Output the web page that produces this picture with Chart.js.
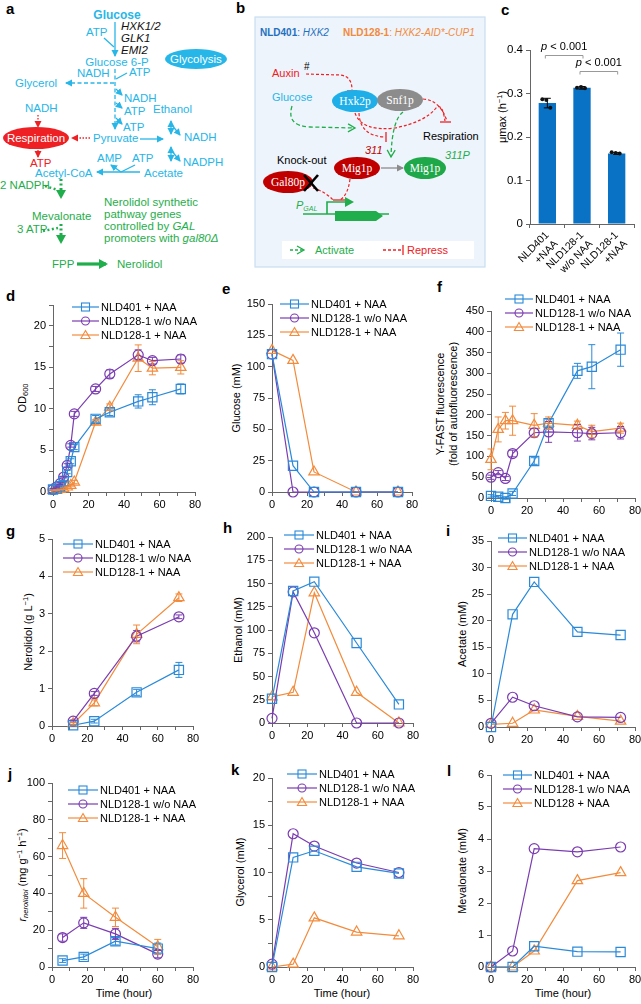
<!DOCTYPE html>
<html><head><meta charset="utf-8">
<script src="https://cdn.jsdelivr.net/npm/chart.js@4.4.1/dist/chart.umd.min.js"></script>
<style>
html,body{margin:0;padding:0;background:#fff;}
#root{position:relative;width:641px;height:1004px;overflow:hidden;font-family:'Liberation Sans',Arial,sans-serif;color:#000;}
canvas{position:absolute;}
.lbl{position:absolute;font-weight:bold;font-size:15px;line-height:15px;}
.yt{position:absolute;white-space:nowrap;font-size:11px;line-height:13px;transform:translate(-50%,-50%) rotate(-90deg);text-align:center;}
.xt{position:absolute;white-space:nowrap;font-size:11px;transform:translate(-50%,-50%);}
.leg{position:absolute;font-size:11px;}
.leg div{height:14px;display:flex;align-items:center;white-space:nowrap;}
.leg svg{margin-right:2px;}
sup{font-size:7.5px;vertical-align:4px;line-height:0;}
sub{font-size:7.5px;vertical-align:-2px;line-height:0;}
svg text{font-family:'Liberation Sans',Arial,sans-serif;}
</style></head><body><div id="root">

<svg id="diag" width="641" height="290" style="position:absolute;left:0;top:0" font-size="11.5">
<defs>
 <marker id="mc" markerWidth="8" markerHeight="8" refX="6" refY="4" orient="auto" markerUnits="userSpaceOnUse"><path d="M0,0.5 L7,4 L0,7.5 z" fill="#27b6e8"/></marker>
 <marker id="mcs" markerWidth="8" markerHeight="8" refX="1" refY="4" orient="auto" markerUnits="userSpaceOnUse"><path d="M7,0.5 L0,4 L7,7.5 z" fill="#27b6e8"/></marker>
 <marker id="mr" markerWidth="8" markerHeight="8" refX="6" refY="4" orient="auto" markerUnits="userSpaceOnUse"><path d="M0,0.5 L7,4 L0,7.5 z" fill="#ee2024"/></marker>
 <marker id="mg" markerWidth="10" markerHeight="10" refX="7" refY="5" orient="auto" markerUnits="userSpaceOnUse"><path d="M0,0 L9,5 L0,10 z" fill="#1fae4b"/></marker>
 <marker id="mgo" markerWidth="10" markerHeight="10" refX="8" refY="5" orient="auto" markerUnits="userSpaceOnUse"><path d="M1,1 L8,5 L1,9" fill="none" stroke="#1fae4b" stroke-width="1.3"/></marker>
 <marker id="mgr" markerWidth="8" markerHeight="8" refX="6" refY="4" orient="auto" markerUnits="userSpaceOnUse"><path d="M0,0.5 L7,4 L0,7.5 z" fill="#8c8c8c"/></marker>
</defs>
<!-- panel a -->
<g fill="#27b6e8" stroke="none">
 <text x="117" y="19" text-anchor="middle" font-weight="bold" font-size="12">Glucose</text>
 <text x="86" y="36">ATP</text>
 <text x="117" y="66" text-anchor="middle">Glucose 6-P</text>
 <text x="77" y="77">NADH</text>
 <text x="129" y="76">ATP</text>
 <text x="15" y="87">Glycerol</text>
 <text x="124" y="102">NADH</text>
 <text x="124" y="115">ATP</text>
 <text x="123" y="131">ATP</text>
 <text x="25" y="112">NADH</text>
 <text x="93" y="142">Pyruvate</text>
 <text x="153" y="113">Ethanol</text>
 <text x="184" y="141">NADH</text>
 <text x="183" y="166">NADPH</text>
 <text x="144" y="177">Acetate</text>
 <text x="35" y="177">Acetyl-CoA</text>
 <text x="97" y="162">AMP</text>
 <text x="132" y="162">ATP</text>
</g>
<g font-style="italic" fill="#111"><text x="121" y="30">HXK1/2</text><text x="121" y="42">GLK1</text><text x="121" y="54">EMI2</text></g>
<ellipse cx="196" cy="59" rx="31" ry="10" fill="#27b6e8"/><text x="196" y="63" text-anchor="middle" fill="#fff">Glycolysis</text>
<g stroke="#27b6e8" stroke-width="1.3" fill="none">
 <line x1="115" y1="22" x2="115" y2="56" marker-end="url(#mc)"/>
 <path d="M104,38 L114,47"/>
 <path d="M116,79 L127,73"/>
 <line x1="115" y1="69" x2="115" y2="129" stroke-dasharray="4,2.5" marker-end="url(#mc)"/>
 <line x1="114" y1="83" x2="66" y2="83" stroke-dasharray="4,2.5" marker-end="url(#mc)"/>
 <path d="M116,89 L122,95" marker-end="url(#mc)"/>
 <path d="M116,103 L122,108" marker-end="url(#mc)"/>
 <path d="M116,118 L122,124" marker-end="url(#mc)"/>
 <line x1="140" y1="139" x2="163" y2="139" marker-end="url(#mc)"/>
 <path d="M171,121 L171,134" marker-start="url(#mcs)" marker-end="url(#mc)"/>
 <path d="M171,124 L180,135" marker-end="url(#mc)"/>
 <path d="M171,147 L171,161" marker-start="url(#mcs)" marker-end="url(#mc)"/>
 <path d="M171,150 L180,161" marker-end="url(#mc)"/>
 <line x1="140" y1="172" x2="97" y2="172" marker-end="url(#mc)"/>
 <path d="M121,172 L111,165" marker-end="url(#mc)"/>
 <path d="M121,172 L135,165"/>
</g>
<ellipse cx="36" cy="138" rx="33" ry="11" fill="#ee2024"/><text x="36" y="142" text-anchor="middle" fill="#fff">Respiration</text>
<text x="30" y="167" fill="#ee2024">ATP</text>
<g stroke="#ee2024" stroke-width="1.3" fill="none" stroke-dasharray="1.5,1.5">
 <line x1="38" y1="115" x2="38" y2="127" marker-end="url(#mr)"/>
 <line x1="90" y1="138" x2="72" y2="138" marker-end="url(#mr)"/>
 <line x1="38" y1="150" x2="38" y2="157" marker-end="url(#mr)"/>
</g>
<g fill="#1fae4b">
 <text x="0" y="189">2 NADPH</text>
 <text x="32" y="220">Mevalonate</text>
 <text x="17" y="233">3 ATP</text>
 <text x="52" y="268">FPP</text>
 <text x="117" y="268">Nerolidol</text>
 <text x="104" y="206">Nerolidol synthetic</text>
 <text x="104" y="218">pathway genes</text>
 <text x="104" y="230">controlled by <tspan font-style="italic">GAL</tspan></text>
 <text x="104" y="242">promoters with <tspan font-style="italic">gal80Δ</tspan></text>
</g>
<g stroke="#1fae4b" fill="none">
 <line x1="61" y1="179" x2="61" y2="197" stroke-width="3" stroke-dasharray="2,2.5" marker-end="url(#mg)"/>
 <line x1="45" y1="186" x2="58" y2="190" stroke-width="2.5" stroke-dasharray="2,2.5"/>
 <line x1="61" y1="224" x2="61" y2="242" stroke-width="3" stroke-dasharray="2,2.5" marker-end="url(#mg)"/>
 <line x1="43" y1="231" x2="58" y2="228" stroke-width="2.5" stroke-dasharray="2,2.5"/>
 <line x1="77" y1="264" x2="106" y2="264" stroke-width="3.2" marker-end="url(#mg)"/>
</g>
<!-- panel b -->
<rect x="255" y="17" width="230" height="250" fill="#eef4fb" stroke="#c9ddf0" stroke-width="1.2"/>
<text x="260" y="36" font-size="10"><tspan font-weight="bold" fill="#1f70c1">NLD401</tspan><tspan fill="#1f70c1">: </tspan><tspan fill="#1f70c1" font-style="italic">HXK2</tspan></text>
<text x="343" y="36" font-size="10"><tspan font-weight="bold" fill="#f28a3c">NLD128-1</tspan><tspan fill="#f28a3c">: </tspan><tspan fill="#f28a3c" font-style="italic">HXK2-AID*-CUP1</tspan></text>
<text x="272" y="77" fill="#ee2024" font-size="11">Auxin</text>
<text x="304" y="70" font-size="10">#</text>
<text x="272" y="101" fill="#27b6e8" font-size="11">Glucose</text>
<g stroke="#ee2024" stroke-width="1.2" fill="none" stroke-dasharray="3,2">
 <path d="M306,74 L340,75 Q352,76 352,90"/>
 <path d="M359,113 Q360,136 385,137"/>
 <path d="M355,113 Q362,132 395,128 Q425,122 436,108 Q442,102 445,121"/>
 <path d="M423,99 Q440,100 447,121"/>
 <path d="M350,179 Q348,195 340,200"/>
 <path d="M313,188 Q326,192 333,200"/>
</g>
<g stroke="#ee2024" stroke-width="1.3">
 <line x1="347" y1="91" x2="357" y2="91"/>
 <line x1="386" y1="132" x2="386" y2="142"/>
 <line x1="440" y1="122" x2="451" y2="122"/>
 <line x1="333" y1="200" x2="345" y2="200"/>
</g>
<g stroke="#1fae4b" stroke-width="1.3" fill="none" stroke-dasharray="4,2.5">
 <path d="M292,106 Q286,126 310,127 L355,128" marker-end="url(#mgo)"/>
 <path d="M403,112 Q392,120 391,157" marker-end="url(#mgo)"/>
</g>
<ellipse cx="355" cy="101" rx="23" ry="11" fill="#1eaee8"/>
<ellipse cx="400" cy="100" rx="23" ry="11" fill="#8c8c8c"/>
<ellipse cx="357" cy="168" rx="23" ry="11" fill="#c00000"/>
<ellipse cx="425" cy="168" rx="21" ry="11" fill="#1fa84a"/>
<ellipse cx="288" cy="182" rx="25" ry="11" fill="#c00000"/>
<g fill="#fff" font-size="11.5" text-anchor="middle">
 <text x="355" y="105" style="font-family:'Liberation Serif',serif">Hxk2p</text>
 <text x="400" y="104" style="font-family:'Liberation Serif',serif">Snf1p</text>
 <text x="357" y="172" style="font-family:'Liberation Serif',serif">Mig1p</text>
 <text x="425" y="172" style="font-family:'Liberation Serif',serif">Mig1p</text>
 <text x="288" y="186" style="font-family:'Liberation Serif',serif">Gal80p</text>
</g>
<line x1="381" y1="168" x2="403" y2="168" stroke="#8c8c8c" stroke-width="1.3" marker-end="url(#mgr)"/>
<text x="423" y="140" font-size="11">Respiration</text>
<text x="277" y="164" font-size="11">Knock-out</text>
<text x="365" y="154" font-size="11" fill="#c00000" font-style="italic">311</text>
<text x="445" y="159" font-size="11" fill="#1fae4b" font-style="italic">311P</text>
<g stroke="#000" stroke-width="2.6"><line x1="304" y1="175" x2="318" y2="191"/><line x1="318" y1="175" x2="304" y2="191"/></g>
<text x="296" y="209" font-size="11" fill="#1fae4b" font-style="italic">P<tspan font-size="7" dy="2">GAL</tspan></text>
<g stroke="#1fae4b" stroke-width="1.6" fill="none">
 <line x1="303" y1="214" x2="389" y2="214"/>
 <path d="M327,214 L327,202 L352,202" marker-end="url(#mg)"/>
</g>
<path d="M335,211 L376,211 L383,216 L376,221 L335,221 z" fill="#1fae4b"/>
<rect x="282" y="241" width="192" height="18" fill="#fff"/>
<g stroke="#1fae4b" stroke-width="1.3" fill="none" stroke-dasharray="3,2"><path d="M290,250 L304,250" marker-end="url(#mgo)"/></g>
<g stroke="#ee2024" stroke-width="1.3" fill="none"><path d="M383,250 L402,250" stroke-dasharray="3,2"/><line x1="403" y1="245" x2="403" y2="255"/></g>
<text x="315" y="254" font-size="11" fill="#1fae4b">Activate</text>
<text x="407" y="254" font-size="11" fill="#ee2024">Repress</text>
</svg>

<div class="lbl" style="left:6px;top:1px">a</div>
<div class="lbl" style="left:236px;top:0px">b</div>
<div class="lbl" style="left:501px;top:2px">c</div>
<div class="lbl" style="left:6px;top:288px">d</div>
<div class="lbl" style="left:222px;top:281px">e</div>
<div class="lbl" style="left:437px;top:279px">f</div>
<div class="lbl" style="left:6px;top:523px">g</div>
<div class="lbl" style="left:223px;top:520px">h</div>
<div class="lbl" style="left:446px;top:523px">i</div>
<div class="lbl" style="left:8px;top:766px">j</div>
<div class="lbl" style="left:231px;top:762px">k</div>
<div class="lbl" style="left:447px;top:763px">l</div>

<div class="yt" style="left:502px;top:117px">μmax (h<sup>−1</sup>)</div>
<div class="yt" style="left:22px;top:398px">OD<sub>600</sub></div>
<div class="yt" style="left:236px;top:398px">Glucose (mM)</div>
<div class="yt" style="left:447px;top:404px">Y-FAST fluorescence<br>(fold of autofluorescence)</div>
<div class="yt" style="left:28px;top:632px">Nerolidol (g L<sup>−1</sup>)</div>
<div class="yt" style="left:238px;top:630px">Ethanol (mM)</div>
<div class="yt" style="left:462px;top:634px">Acetate (mM)</div>
<div class="yt" style="left:22px;top:875px"><i>r</i><sub><i>nerolidol</i></sub> (mg g<sup>−1</sup> h<sup>−1</sup>)</div>
<div class="yt" style="left:240px;top:872px">Glycerol (mM)</div>
<div class="yt" style="left:462px;top:871px">Mevalonate (mM)</div>
<div class="xt" style="left:124px;top:993px">Time (hour)</div>
<div class="xt" style="left:342px;top:993px">Time (hour)</div>
<div class="xt" style="left:563px;top:993px">Time (hour)</div>
</div>

<script>
// ---------- data ----------
const strainNames = ['NLD401 + NAA', 'NLD128-1 w/o NAA', 'NLD128-1 + NAA'];
const strainNamesL = ['NLD401 + NAA', 'NLD128-1 w/o NAA', 'NLD128 + NAA'];

// c: max specific growth rate
const muLabels = [['NLD401', '+NAA'], ['NLD128-1', 'w/o NAA'], ['NLD128-1', '+NAA']];
const muMax = [0.278, 0.313, 0.162];
const muSd = [0.011, 0.003, 0.002];
const muRep1 = [0.287, 0.313, 0.165];
const muRep2 = [0.285, 0.315, 0.163];
const muRep3 = [0.267, 0.312, 0.162];
const pTexts = ['p < 0.001', 'p < 0.001'];

// d: OD600
const timeD = [0, 2, 4, 6, 8, 10, 12, 24, 32, 48, 56, 72];
const odBlue = [0.3, 0.4, 0.7, 1.3, 2.4, 3.7, 5.4, 8.8, 9.6, 10.9, 11.4, 12.4];
const odBlueSd = [0.1, 0.1, 0.1, 0.1, 0.2, 0.3, 0.3, 0.4, 0.4, 0.8, 0.9, 0.6];
const odPurple = [0.3, 0.6, 1.0, 1.8, 3.2, 5.6, 9.4, 12.4, 14.2, 16.5, 15.8, 16.0];
const odPurpleSd = [0.1, 0.1, 0.1, 0.1, 0.2, 0.2, 0.3, 0.3, 0.5, 0.6, 0.4, 0.5];
const odOrange = [0.2, 0.2, 0.3, 0.4, 0.6, 0.8, 1.2, 8.4, 10.2, 16.1, 14.9, 15.0];
const odOrangeSd = [0.05, 0.05, 0.05, 0.1, 0.1, 0.1, 0.2, 0.3, 0.4, 1.6, 0.8, 0.8];

// e: glucose
const timeE = [0, 12, 24, 48, 72];
const gluBlue = [110, 21, 0, 0, 0];
const gluPurple = [110, 0, 0, 0, 0];
const gluOrange = [113, 105, 16, 0, 0];

// f: Y-FAST fluorescence
const timeF = [0, 4, 8, 12, 24, 32, 48, 56, 72];
const yfBlue = [5, 3, 0, 11, 89, 180, 306, 316, 357];
const yfBlueSd = [3, 3, 3, 5, 8, 10, 18, 53, 40];
const yfPurple = [50, 61, 47, 107, 157, 159, 157, 155, 157];
const yfPurpleSd = [5, 5, 5, 8, 10, 25, 20, 15, 15];
const yfOrange = [93, 165, 186, 186, 175, 180, 175, 160, 168];
const yfOrangeSd = [25, 30, 20, 35, 28, 15, 10, 15, 12];

// g: nerolidol titer
const timeG = [12, 24, 48, 72];
const nerBlue = [0.02, 0.13, 0.9, 1.5];
const nerBlueSd = [0.02, 0.05, 0.08, 0.2];
const nerPurple = [0.13, 0.87, 2.4, 2.92];
const nerPurpleSd = [0.03, 0.05, 0.15, 0.05];
const nerOrange = [0.06, 0.62, 2.45, 3.43];
const nerOrangeSd = [0.03, 0.08, 0.25, 0.1];

// h: ethanol
const timeH = [0, 12, 24, 48, 72];
const etBlue = [26, 142, 152, 86, 20];
const etPurple = [5, 141, 97, 0, 0];
const etOrange = [28, 33, 140, 33, 0];

// i: acetate
const timeI = [0, 12, 24, 48, 72];
const acBlue = [0, 21.2, 27.3, 17.9, 17.3];
const acPurple = [0.7, 5.6, 4.0, 1.9, 1.8];
const acOrange = [0.5, 0.7, 3.2, 2.0, 1.1];

// j: specific nerolidol production rate
const timeJ = [6, 18, 36, 60];
const rBlue = [3.5, 5.5, 14, 10];
const rBlueSd = [1, 1.5, 2, 3];
const rPurple = [16, 24, 18, 7];
const rPurpleSd = [2, 3, 3, 2];
const rOrange = [66, 40, 27, 11];
const rOrangeSd = [7, 8, 5, 4];

// k: glycerol
const timeK = [0, 12, 24, 48, 72];
const glyBlue = [0, 11.6, 12.3, 10.6, 9.9];
const glyPurple = [0.3, 14.1, 12.8, 11.0, 10.0];
const glyOrange = [0, 0.3, 5.2, 3.7, 3.3];

// l: mevalonate
const timeL = [0, 12, 24, 48, 72];
const mvBlue = [0, 0, 0.65, 0.48, 0.47];
const mvPurple = [0, 0.5, 3.7, 3.6, 3.75];
const mvOrange = [0, 0, 0.5, 2.7, 2.95];

// ---------- style ----------
const BLUE = '#2a8ad9', PURPLE = '#7a3cb0', ORANGE = '#f38b3c';
const AXIS = '#666';
Chart.defaults.font.family = "'Liberation Sans', Arial, sans-serif";
Chart.defaults.font.size = 11;
Chart.defaults.color = '#000';

const root = document.getElementById('root');
function mkCanvas(left, top, w, h) {
  const c = document.createElement('canvas');
  c.style.left = left + 'px'; c.style.top = top + 'px';
  c.style.width = w + 'px'; c.style.height = h + 'px';
  c.width = w; c.height = h;
  root.appendChild(c);
  return c;
}

const errPlugin = {
  id: 'errbars',
  afterDatasetsDraw(chart) {
    const ctx = chart.ctx, ys = chart.scales.y;
    chart.data.datasets.forEach((ds, i) => {
      if (!ds.errors) return;
      const meta = chart.getDatasetMeta(i);
      ctx.save();
      ctx.strokeStyle = ds.errColor || ds.borderColor;
      ctx.lineWidth = 1;
      meta.data.forEach((el, j) => {
        const e = ds.errors[j];
        if (!e) return;
        const d = ds.data[j];
        const v = (typeof d === 'object') ? d.y : d;
        const x = el.x;
        const y1 = ys.getPixelForValue(v + e), y2 = ys.getPixelForValue(v - e);
        const cw = ds.capW || 3.5;
        ctx.beginPath();
        ctx.moveTo(x, y1); ctx.lineTo(x, y2);
        ctx.moveTo(x - cw, y1); ctx.lineTo(x + cw, y1);
        ctx.moveTo(x - cw, y2); ctx.lineTo(x + cw, y2);
        ctx.stroke();
      });
      ctx.restore();
    });
  }
};

const SHAPES = {
  sq: {ps: 'rect', r: 6.5},
  ci: {ps: 'circle', r: 5},
  tr: {ps: 'triangle', r: 6}
};

function lineChart(o) {
  const yw = 42, xh = 24;
  const left = o.x0 - yw, top = o.yTop - 10;
  const w = o.x1 + 14 - left, h = o.yBot + xh - top;
  const cv = mkCanvas(left, top, w, h);
  const datasets = o.series.map(s => ({
    data: s.t.map((t, i) => ({x: t, y: s.v[i]})),
    errors: s.e,
    borderColor: s.color, backgroundColor: 'rgba(0,0,0,0)',
    pointBackgroundColor: 'rgba(0,0,0,0)', pointBorderColor: s.color,
    pointStyle: SHAPES[s.shape].ps, pointRadius: SHAPES[s.shape].r,
    pointBorderWidth: 1.2, borderWidth: 1.2, tension: 0, clip: false, fill: false
  }));
  new Chart(cv, {
    type: 'line',
    data: {datasets},
    options: {
      responsive: false, animation: false, devicePixelRatio: 1,
      layout: {padding: {top: 10, right: 14, left: 0, bottom: 0}},
      plugins: {legend: {display: false}, tooltip: {enabled: false}},
      scales: {
        x: {
          type: 'linear', min: 0, max: 80,
          ticks: {stepSize: 10, autoSkip: false, maxRotation: 0, padding: 2,
                  callback: v => (Math.abs(v % 20) < 1e-9 ? v : '')},
          grid: {drawOnChartArea: false, drawTicks: true, tickLength: 4, color: AXIS},
          border: {color: AXIS, width: 1},
          afterFit: s => { s.height = xh; }
        },
        y: {
          min: 0, max: o.ymax,
          ticks: {stepSize: o.step, autoSkip: false, padding: 3,
                  callback: v => (Math.abs(v / o.lab - Math.round(v / o.lab)) < 1e-6 ? v : '')},
          grid: {drawOnChartArea: false, drawTicks: true, tickLength: 4, color: AXIS},
          border: {color: AXIS, width: 1},
          afterFit: s => { s.width = yw; }
        }
      }
    },
    plugins: [errPlugin]
  });
}

function legend(left, top, lineW, names) {
  const colors = [BLUE, PURPLE, ORANGE];
  const d = document.createElement('div');
  d.className = 'leg';
  d.style.left = left + 'px'; d.style.top = top + 'px';
  names.forEach((n, i) => {
    const c = colors[i], m = lineW / 2;
    let mk;
    if (i === 0) mk = `<rect x="${m - 4}" y="3" width="8" height="8" fill="none" stroke="${c}" stroke-width="1.1"/>`;
    else if (i === 1) mk = `<circle cx="${m}" cy="7" r="4" fill="none" stroke="${c}" stroke-width="1.1"/>`;
    else mk = `<polygon points="${m},2.5 ${m + 4.6},10.5 ${m - 4.6},10.5" fill="none" stroke="${c}" stroke-width="1.1"/>`;
    const row = document.createElement('div');
    row.innerHTML = `<svg width="${lineW}" height="14"><line x1="0" y1="7" x2="${lineW}" y2="7" stroke="${c}" stroke-width="1.2"/>${mk}</svg><span>${n}</span>`;
    d.appendChild(row);
  });
  root.appendChild(d);
}

function S(t, v, e, color, shape) { return {t, v, e, color, shape}; }

// d
lineChart({x0: 53, x1: 195, yTop: 305, yBot: 492, ymax: 22.5, step: 2.5, lab: 5, series: [
  S(timeD, odBlue, odBlueSd, BLUE, 'sq'), S(timeD, odPurple, odPurpleSd, PURPLE, 'ci'), S(timeD, odOrange, odOrangeSd, ORANGE, 'tr')]});
legend(72, 300, 27, strainNames);
// e
lineChart({x0: 272, x1: 412, yTop: 304, yBot: 492, ymax: 150, step: 25, lab: 25, series: [
  S(timeE, gluBlue, null, BLUE, 'sq'), S(timeE, gluPurple, null, PURPLE, 'ci'), S(timeE, gluOrange, null, ORANGE, 'tr')]});
legend(280, 297, 29, strainNames);
// f
lineChart({x0: 491, x1: 635, yTop: 311, yBot: 498, ymax: 450, step: 50, lab: 50, series: [
  S(timeF, yfBlue, yfBlueSd, BLUE, 'sq'), S(timeF, yfPurple, yfPurpleSd, PURPLE, 'ci'), S(timeF, yfOrange, yfOrangeSd, ORANGE, 'tr')]});
legend(505, 292, 28, strainNames);
// g
lineChart({x0: 52, x1: 193, yTop: 539, yBot: 726, ymax: 5, step: 1, lab: 1, series: [
  S(timeG, nerBlue, nerBlueSd, BLUE, 'sq'), S(timeG, nerPurple, nerPurpleSd, PURPLE, 'ci'), S(timeG, nerOrange, nerOrangeSd, ORANGE, 'tr')]});
legend(63, 537, 30, strainNames);
// h
lineChart({x0: 272, x1: 413, yTop: 537, yBot: 723, ymax: 200, step: 25, lab: 25, series: [
  S(timeH, etBlue, null, BLUE, 'sq'), S(timeH, etPurple, null, PURPLE, 'ci'), S(timeH, etOrange, null, ORANGE, 'tr')]});
legend(284, 528, 30, strainNames);
// i
lineChart({x0: 491, x1: 635, yTop: 541, yBot: 727, ymax: 35, step: 5, lab: 5, series: [
  S(timeI, acBlue, null, BLUE, 'sq'), S(timeI, acPurple, null, PURPLE, 'ci'), S(timeI, acOrange, null, ORANGE, 'tr')]});
legend(498, 531, 29, strainNames);
// j
lineChart({x0: 52, x1: 193, yTop: 783, yBot: 967, ymax: 100, step: 10, lab: 20, series: [
  S(timeJ, rBlue, rBlueSd, BLUE, 'sq'), S(timeJ, rPurple, rPurpleSd, PURPLE, 'ci'), S(timeJ, rOrange, rOrangeSd, ORANGE, 'tr')]});
legend(68, 783, 30, strainNames);
// k
lineChart({x0: 272, x1: 413, yTop: 778, yBot: 967, ymax: 20, step: 2.5, lab: 5, series: [
  S(timeK, glyBlue, null, BLUE, 'sq'), S(timeK, glyPurple, null, PURPLE, 'ci'), S(timeK, glyOrange, null, ORANGE, 'tr')]});
legend(287, 767, 30, strainNames);
// l
lineChart({x0: 491, x1: 635, yTop: 775, yBot: 967, ymax: 6, step: 1, lab: 1, series: [
  S(timeL, mvBlue, null, BLUE, 'sq'), S(timeL, mvPurple, null, PURPLE, 'ci'), S(timeL, mvOrange, null, ORANGE, 'tr')]});
legend(503, 768, 29, strainNamesL);

// c: bar chart
(function () {
  const left = 490, top = 0, right = 641;
  const cv = mkCanvas(left, top, right - left, 274);
  const repPlugin = {
    id: 'reps',
    afterDatasetsDraw(chart) {
      const ctx = chart.ctx, ys = chart.scales.y;
      const meta = chart.getDatasetMeta(0);
      const reps = [muRep1, muRep2, muRep3];
      const offs = [-5, -1, 3];
      ctx.save();
      ctx.strokeStyle = '#000'; ctx.lineWidth = 1;
      meta.data.forEach((bar, i) => {
        const y1 = ys.getPixelForValue(muMax[i] + muSd[i]), y2 = ys.getPixelForValue(muMax[i] - muSd[i]);
        ctx.beginPath();
        ctx.moveTo(bar.x, y1); ctx.lineTo(bar.x, y2);
        ctx.moveTo(bar.x - 3.5, y1); ctx.lineTo(bar.x + 3.5, y1);
        ctx.moveTo(bar.x - 3.5, y2); ctx.lineTo(bar.x + 3.5, y2);
        ctx.stroke();
      });
      ctx.fillStyle = '#111';
      meta.data.forEach((bar, i) => {
        reps.forEach((r, k) => {
          ctx.beginPath();
          ctx.arc(bar.x + offs[k], ys.getPixelForValue(r[i]), 2, 0, Math.PI * 2);
          ctx.fill();
        });
      });
      const levels = [0.388, 0.352];
      const pairs = [[0, 1], [1, 2]];
      ctx.strokeStyle = '#999'; ctx.lineWidth = 1;
      pairs.forEach((p, k) => {
        const xa = meta.data[p[0]].x - 2, xb = meta.data[p[1]].x + 1;
        const y = Math.round(ys.getPixelForValue(levels[k])) + 0.5;
        ctx.beginPath();
        ctx.moveTo(xa, y + 3); ctx.lineTo(xa, y); ctx.lineTo(xb, y); ctx.lineTo(xb, y + 3);
        ctx.stroke();
        const cx = (xa + xb) / 2;
        ctx.fillStyle = '#000';
        ctx.font = "italic 11px 'Liberation Sans', Arial";
        const pw = ctx.measureText('p').width;
        ctx.font = "11px 'Liberation Sans', Arial";
        const rest = pTexts[k].slice(1);
        const rw = ctx.measureText(rest).width;
        const x0 = cx - (pw + rw) / 2;
        ctx.textBaseline = 'alphabetic'; ctx.textAlign = 'left';
        ctx.font = "italic 11px 'Liberation Sans', Arial";
        ctx.fillText('p', x0, y - 6);
        ctx.font = "11px 'Liberation Sans', Arial";
        ctx.fillText(rest, x0 + pw, y - 6);
      });
      ctx.restore();
    }
  };
  new Chart(cv, {
    type: 'bar',
    data: {labels: muLabels, datasets: [{data: muMax, backgroundColor: '#0a72c4', borderWidth: 0,
      barPercentage: 0.5, categoryPercentage: 1.0}]},
    options: {
      responsive: false, animation: false, devicePixelRatio: 1,
      layout: {padding: {top: 50, right: 7, left: 0, bottom: 0}},
      plugins: {legend: {display: false}, tooltip: {enabled: false}},
      scales: {
        x: {
          ticks: {minRotation: 45, maxRotation: 45, autoSkip: false, padding: 1, font: {size: 10.5}},
          grid: {display: true, drawOnChartArea: false, drawTicks: true, tickLength: 4, color: AXIS, offset: true},
          border: {color: AXIS},
          afterFit: s => { s.height = 50; }
        },
        y: {
          min: 0, max: 0.4,
          ticks: {stepSize: 0.1, padding: 3, font: {size: 11.5}, callback: v => (v === 0 ? '0' : v.toFixed(1))},
          grid: {drawOnChartArea: false, drawTicks: true, tickLength: 4, color: AXIS},
          border: {color: AXIS},
          afterFit: s => { s.width = 40; }
        }
      }
    },
    plugins: [repPlugin]
  });
})();
</script>
</body></html>
